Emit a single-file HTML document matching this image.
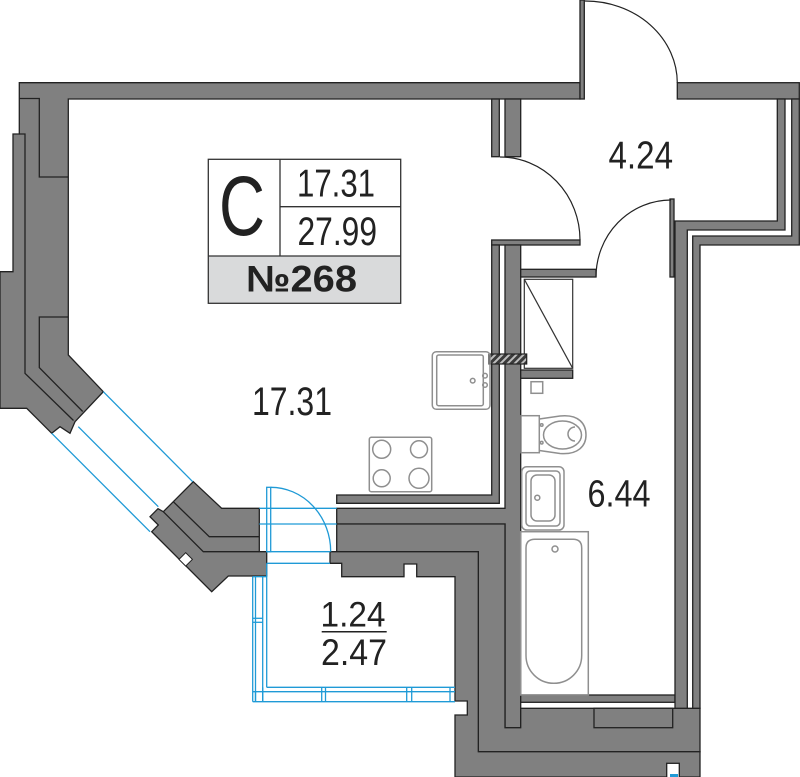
<!DOCTYPE html>
<html><head><meta charset="utf-8"><style>
html,body{margin:0;padding:0;background:#fff;}
svg{display:block;}
text{font-family:"Liberation Sans",sans-serif;fill:#222;}
</style></head><body>
<svg width="800" height="777" viewBox="0 0 800 777" xmlns="http://www.w3.org/2000/svg">
<defs>
<pattern id="h" width="5" height="5" patternUnits="userSpaceOnUse" patternTransform="rotate(45)">
<rect width="5" height="5" fill="#3a3a3a"/><rect width="2" height="5" fill="#bdbdbd"/>
</pattern>
</defs>
<rect width="800" height="777" fill="#fff"/>

<!-- WALLS -->
<g fill="#808080" stroke="#222" stroke-width="1.3" stroke-linejoin="miter">
 <polygon points="19.3,82.7 580,82.7 580,99 68.3,99 68.3,355 103.3,391.7 75,421.7 70,433.3 60,426.7 51.7,433.3 26.7,408.3 0,408.3 0,271.7 13,271.7 13,134 19.3,134"/>
 <rect x="580" y="0" width="4.3" height="99"/>
 <rect x="677.3" y="82.7" width="122" height="16.3"/>
 <rect x="491.7" y="99" width="7.6" height="57.7"/>
 <rect x="505" y="99" width="15.7" height="57.7"/>
 <rect x="491.7" y="240" width="88.3" height="5"/>
 <polygon points="491.7,245 499.3,245 499.3,503.3 336.7,503.3 336.7,495 491.7,495"/>
 <polygon points="505,245 520.7,245 520.7,727.7 505,727.7 505,524 336.7,524 336.7,508.3 505,508.3"/>
 <polygon points="336.7,524 505,524 505,727.7 520.7,727.7 520.7,708.3 700,708.3 700,751.7 478.3,751.7 478.3,551.7 336.7,551.7"/>
 <polygon points="330,551.7 478.3,551.7 478.3,751.7 700,751.7 700,777 455,777 455,715 467.3,715 467.3,701 455,701 455,576.7 416.7,576.7 416.7,564 404,564 404,576.7 341.7,576.7 341.7,563.3 330,563.3"/>
 <rect x="594" y="708.3" width="78.7" height="19.4"/>
 <rect x="520.7" y="695" width="154.3" height="7.3"/>
 <polygon points="675,221 777.3,221 777.3,99 785,99 785,230 687.3,230 687.3,708.3 675,708.3"/>
 <polygon points="692.7,236 791.7,236 791.7,99 799.3,99 799.3,245 700,245 700,708.3 692.7,708.3"/>
 <rect x="520.7" y="269.3" width="75.3" height="7.7"/>
 <rect x="670" y="199" width="4" height="78"/>
 <rect x="520.7" y="370" width="52" height="8.3"/>
 <polygon points="193.3,481.7 221.7,508.3 259.3,508.3 259.3,551.7 266.7,551.7 266.7,576 228.3,576 211.7,591.7 151.7,531.7 158.3,525 150,516.7 158,508.7 163.3,511.7 173.3,501.7"/>
</g>
<rect x="666.7" y="763.3" width="12.6" height="15" fill="#fff" stroke="#222" stroke-width="1.3"/>
<rect x="181" y="554.6" width="9.5" height="9.5" fill="#fff" stroke="#222" stroke-width="1" transform="rotate(45 185.7 559.3)"/>

<!-- internal wall lines -->
<g fill="none" stroke="#222" stroke-width="1.3">
 <polyline points="19.3,98.5 39.3,98.5 39.3,177 68.3,177"/>
 <polyline points="68.3,317 39.3,317 39.3,367.6 82.7,411.5"/>
 <polyline points="19.3,134 25,134 25,373.3 73.5,420.5"/>
 <polyline points="173.3,501.7 209.3,536.7 259.3,536.7"/>
 <polyline points="163.3,511.7 203.3,551.7 259.3,551.7"/>
</g>

<!-- closet / vent -->
<rect x="524.3" y="279.3" width="48.4" height="89" fill="#fff" stroke="#333" stroke-width="1.2"/>
<line x1="524.3" y1="279.3" x2="572.7" y2="368.3" stroke="#333" stroke-width="1.2"/>
<rect x="489" y="354" width="37.7" height="10" fill="url(#h)" stroke="#222" stroke-width="1.2"/>

<!-- doors (black) -->
<g fill="none" stroke="#222" stroke-width="1.2">
 <path d="M585,1 A92,82 0 0 1 677.3,83"/>
 <path d="M500,157 A80,83 0 0 1 580,240"/>
 <path d="M596,277 A75,77 0 0 1 671,200"/>
</g>

<!-- BLUE window / balcony -->
<g fill="none" stroke="#1f9ad6" stroke-width="1.3">
 <line x1="103.3" y1="391.7" x2="192.7" y2="481.7"/>
 <line x1="78.3" y1="426.7" x2="158.3" y2="506.7"/>
 <line x1="51.7" y1="433.3" x2="150" y2="531.7"/>
 <line x1="259.3" y1="508.3" x2="336.7" y2="508.3"/>
 <line x1="259.3" y1="524" x2="336.7" y2="524"/>
 <line x1="266.7" y1="551.7" x2="330" y2="551.7"/>
 <line x1="266.7" y1="563.3" x2="330" y2="563.3"/>
 <rect x="266.7" y="487.3" width="4" height="64.4"/>
 <path d="M270.7,487.3 A60,64.4 0 0 1 330.7,551.7"/>
 <!-- balcony frame left -->
 <line x1="252.7" y1="576.7" x2="252.7" y2="701.7"/>
 <line x1="255.5" y1="576.7" x2="255.5" y2="701.7"/>
 <line x1="262.7" y1="576.7" x2="262.7" y2="701.7"/>
 <line x1="266.7" y1="563.3" x2="266.7" y2="687.3"/>
 <line x1="252.7" y1="576.7" x2="266.7" y2="576.7"/>
 <line x1="252.7" y1="618.3" x2="262.7" y2="618.3"/>
 <line x1="252.7" y1="622.3" x2="262.7" y2="622.3"/>
 <!-- bottom frame -->
 <line x1="266.7" y1="687.3" x2="455" y2="687.3"/>
 <line x1="252.7" y1="691.7" x2="455" y2="691.7"/>
 <line x1="252.7" y1="701.7" x2="455" y2="701.7"/>
 <line x1="255.5" y1="691.7" x2="255.5" y2="701.7"/>
 <line x1="262.7" y1="687.3" x2="262.7" y2="701.7"/>
 <line x1="321.7" y1="687.3" x2="321.7" y2="701.7"/>
 <line x1="325.5" y1="687.3" x2="325.5" y2="701.7"/>
 <line x1="406.7" y1="687.3" x2="406.7" y2="701.7"/>
 <line x1="411.7" y1="687.3" x2="411.7" y2="701.7"/>
 <line x1="450" y1="687.3" x2="450" y2="701.7"/>
</g>
<rect x="670" y="774" width="8" height="3" fill="#1f9ad6"/>

<!-- FIXTURES -->
<g fill="none" stroke="#8f8f8f" stroke-width="1.5">
 <!-- kitchen sink -->
 <rect x="432.3" y="351.7" width="57.7" height="57.6" rx="4"/>
 <rect x="436.7" y="355" width="46.6" height="50.7" rx="2"/>
 <circle cx="472.7" cy="380.7" r="2.3"/>
 <circle cx="485" cy="375.7" r="2.3"/>
 <circle cx="485" cy="385" r="2.3"/>
 <!-- stove -->
 <rect x="369.3" y="437.3" width="62.4" height="54.4" rx="2"/>
 <circle cx="381.7" cy="449.3" r="9"/>
 <circle cx="419" cy="449.3" r="8.5"/>
 <circle cx="381.7" cy="478.3" r="8.5"/>
 <circle cx="419" cy="478.3" r="10"/>
 <!-- small square -->
 <rect x="531" y="381.7" width="11.7" height="11.6"/>
 <!-- toilet -->
 <rect x="521" y="415.7" width="18.3" height="37"/>
 <path d="M539.3,419 L560,416 C579,414 586,424 586,435 C586,446 578,455 560,453.5 L539.3,450.5"/>
 <ellipse cx="562.5" cy="435" rx="19" ry="14"/>
 <path d="M575,427 A6.5,6.5 0 0 0 575,441"/>
 <circle cx="541.7" cy="425" r="1.3"/>
 <circle cx="541.7" cy="442.7" r="1.3"/>
 <!-- bathroom sink -->
 <rect x="521.7" y="466.7" width="42.3" height="63.3" rx="5"/>
 <rect x="526" y="471" width="34" height="55" rx="4"/>
 <rect x="531" y="475" width="24" height="46" rx="6"/>
 <circle cx="537.3" cy="497.7" r="2.5"/>
 <!-- bathtub -->
 <rect x="520.7" y="531.7" width="67.6" height="163.3"/>
 <path d="M526,548 Q526,539.3 535,539.3 L573,539.3 Q581.7,539.3 581.7,548 L581.7,655.5 A27.85,27.8 0 0 1 526,655.5 Z"/>
 <circle cx="555" cy="549" r="3"/>
</g>

<!-- LABEL BOX -->
<rect x="208.3" y="256" width="192.4" height="47.3" fill="#d9dadb"/>
<g fill="none" stroke="#333" stroke-width="1.3">
 <rect x="208.3" y="159.3" width="192.4" height="144"/>
 <line x1="208.3" y1="256" x2="400.7" y2="256"/>
 <line x1="280" y1="159.3" x2="280" y2="256"/>
 <line x1="280" y1="206.7" x2="400.7" y2="206.7"/>
</g>
<text x="219" y="235" font-size="84" textLength="46" lengthAdjust="spacingAndGlyphs">C</text>
<text x="297" y="196.7" font-size="39" textLength="78" lengthAdjust="spacingAndGlyphs">17.31</text>
<text x="297.5" y="245" font-size="40" textLength="79.5" lengthAdjust="spacingAndGlyphs">27.99</text>
<text x="246" y="291.7" font-size="37" font-weight="bold" textLength="111" lengthAdjust="spacingAndGlyphs">№268</text>

<!-- ROOM LABELS -->
<text x="608.5" y="168.3" font-size="39" textLength="64.5" lengthAdjust="spacingAndGlyphs">4.24</text>
<text x="252" y="415" font-size="40" textLength="80" lengthAdjust="spacingAndGlyphs">17.31</text>
<text x="587.5" y="506.7" font-size="38" textLength="63" lengthAdjust="spacingAndGlyphs">6.44</text>
<text x="320.5" y="626.7" font-size="35" textLength="65" lengthAdjust="spacingAndGlyphs">1.24</text>
<line x1="321.7" y1="631.7" x2="386.7" y2="631.7" stroke="#222" stroke-width="1.5"/>
<text x="321" y="665" font-size="37" textLength="66" lengthAdjust="spacingAndGlyphs">2.47</text>
</svg>
</body></html>
